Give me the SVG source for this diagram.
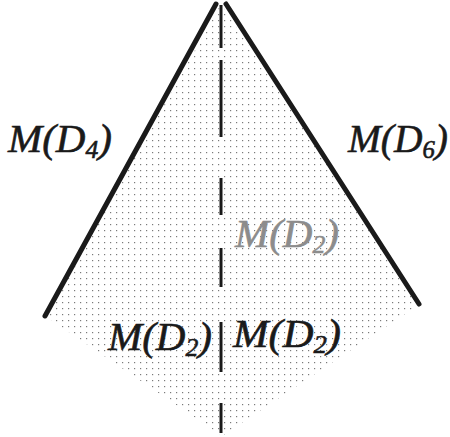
<svg xmlns="http://www.w3.org/2000/svg" width="450" height="437" viewBox="0 0 450 437">
<defs>
<pattern id="dots" width="6" height="6" patternUnits="userSpaceOnUse">
<rect x="2" y="2" width="1.2" height="1.2" fill="#7a7a7a"/>
</pattern>
</defs>
<style>
.lbl{font-family:"Liberation Serif","DejaVu Serif",serif;font-style:italic;font-size:40px;fill:#1a1a1a;stroke:#1a1a1a;stroke-width:0.6}
.sub{font-size:25px}
.gray{fill:#8c8c8c;stroke:#8c8c8c}
.edge{stroke:#1a1a1a;stroke-width:5;stroke-linecap:round;fill:none}
.dash{stroke:#1a1a1a;stroke-width:3;fill:none}
</style>
<rect width="450" height="437" fill="#ffffff"/>
<g id="region">
<polygon points="221,4 45,316 222,436 420,304" fill="url(#dots)"/>
</g>
<g id="connectors">
<line id="edge-D4" class="edge" x1="216" y1="4" x2="45" y2="316"/>
<line id="edge-D6" class="edge" x1="226" y1="4" x2="419" y2="304"/>
<g id="axis" class="dash">
<line x1="221" y1="5" x2="221" y2="48"/>
<line x1="221" y1="60" x2="221" y2="137"/>
<line x1="221" y1="178" x2="221" y2="215"/>
<line x1="221" y1="248" x2="221" y2="287"/>
<line x1="221" y1="322" x2="221" y2="372"/>
<line x1="221" y1="403" x2="221" y2="433"/>
</g>
</g>
<g id="label-D4">
<text class="lbl" x="8" y="152" textLength="104" lengthAdjust="spacingAndGlyphs">M(D<tspan class="sub" dy="6">4</tspan><tspan dy="-6">)</tspan></text>
</g>
<g id="label-D6">
<text class="lbl" x="348" y="152" textLength="100" lengthAdjust="spacingAndGlyphs">M(D<tspan class="sub" dy="6">6</tspan><tspan dy="-6">)</tspan></text>
</g>
<g id="label-D2-gray">
<text class="lbl gray" x="235" y="247" textLength="104" lengthAdjust="spacingAndGlyphs">M(D<tspan class="sub" dy="6">2</tspan><tspan dy="-6">)</tspan></text>
</g>
<g id="label-D2-left">
<text class="lbl" x="108" y="350" textLength="104" lengthAdjust="spacingAndGlyphs">M(D<tspan class="sub" dy="6">2</tspan><tspan dy="-6">)</tspan></text>
</g>
<g id="label-D2-right">
<text class="lbl" x="233" y="347" textLength="108" lengthAdjust="spacingAndGlyphs">M(D<tspan class="sub" dy="6">2</tspan><tspan dy="-6">)</tspan></text>
</g>
</svg>
